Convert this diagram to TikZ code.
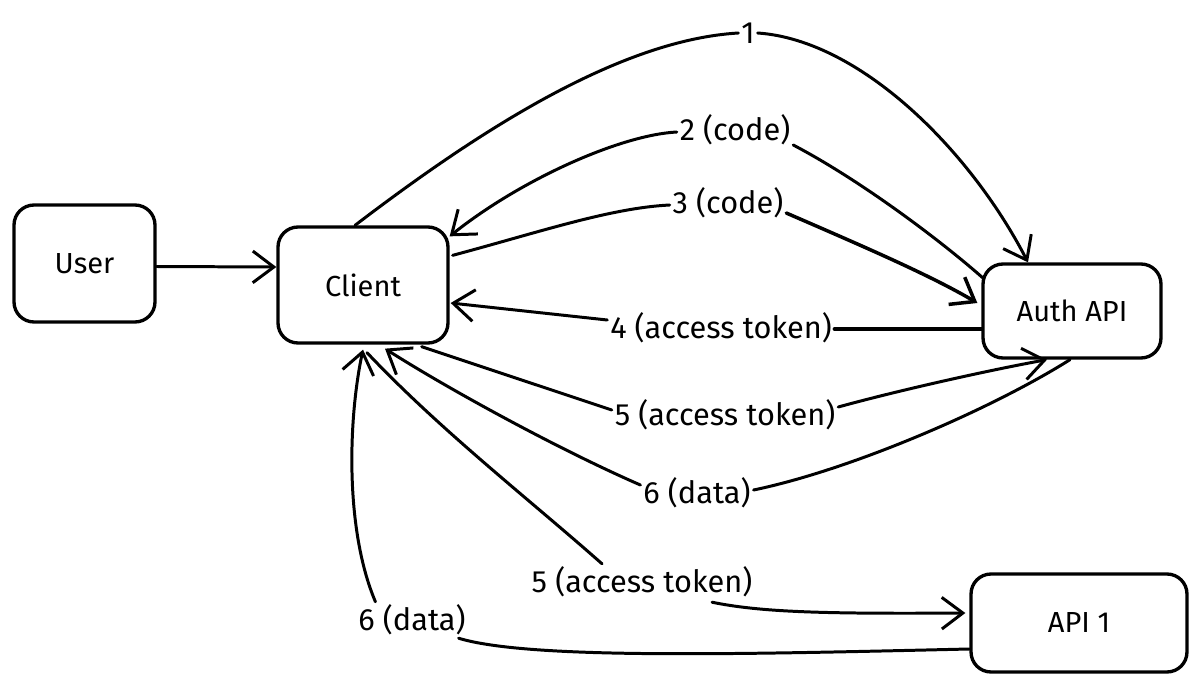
\documentclass[tikz,border=0pt]{standalone}
\usepackage{fontspec}
\setmainfont{Fira Sans}
\usetikzlibrary{arrows.meta,calc}
\begin{document}
\begin{tikzpicture}[x=0.02cm,y=-0.02cm,
  box/.style={draw, line width=1.9pt, rounded corners=0.4cm, font=\fontsize{16.5}{19}\selectfont, inner sep=0pt},
  lbl/.style={font=\fontsize{17.5}{20}\selectfont, inner sep=1.5pt},
  conn/.style={line width=1.7pt, line cap=round},
  thick conn/.style={conn, line width=2.4pt},
  arr/.style={conn, -{Straight Barb[length=12pt,width=18pt]}},
]
\useasboundingbox (0,0) rectangle (1200,686);

% boxes
\node[box, minimum width=2.82cm, minimum height=2.34cm] (user) at (84.5,263.5) {User};
\node[box, minimum width=3.40cm, minimum height=2.32cm] (client) at (363,285) {Client};
\node[box, minimum width=3.56cm, minimum height=1.88cm] (auth) at (1072,311) {Auth API};
\node[box, minimum width=4.32cm, minimum height=1.96cm] (api) at (1079,623) {API 1};

% labels
\node[lbl] (l1) at (748,33) {1};
\node[lbl] (l2) at (735,130) {2 (code)};
\node[lbl] (l3) at (728,203) {3 (code)};
\node[lbl] (l4) at (721,328) {4 (access token)};
\node[lbl] (l5) at (725,415) {5 (access token)};
\node[lbl] (l6) at (697,493) {6 (data)};
\node[lbl] (l7) at (642,582) {5 (access token)};
\node[lbl] (l8) at (412,620) {6 (data)};

% user -> client
\draw[arr] ($(user.east)+(0,3)$) -- ($(client.west)+(0,-18)$);

% 1
\draw[conn] ($(client.north)+(-8,0)$) .. controls (480,130) and (620,40) .. (l1.west);
\draw[arr] (l1.east) .. controls (860,40) and (970,150) .. ($(auth.north)+(-44,0)$);

% 2
\draw[conn] ($(auth.north west)+(2,16)$) .. controls (940,240) and (860,180) .. ($(l2.east)+(0,15)$);
\draw[arr] ($(l2.west)+(0,2)$) .. controls (620,135) and (520,180) .. ($(client.north east)+(0,11)$);

% 3
\draw[conn] ($(client.north east)+(3,30)$) .. controls (540,232) and (610,208) .. ($(l3.west)+(0,2)$);
\draw[arr, line width=2pt] ($(l3.east)+(0,10)$) .. controls (860,245) and (930,275) .. ($(auth.west)+(-4,-8)$);

% 4
\draw[thick conn] ($(auth.west)+(0,18)$) -- ($(l4.east)+(0,1)$);
\draw[arr] ($(l4.west)+(0,-8)$) -- ($(client.east)+(1,18)$);

% 5 (auth)
\draw[conn] ($(client.south east)+(-28,2)$) -- ($(l5.west)+(0,-5)$);
\draw[arr] ($(l5.east)+(0,-8)$) .. controls (900,390) and (990,370) .. ($(auth.south)+(-25,0)$);

% 6 (auth)
\draw[conn] ($(auth.south)+(-2,0)$) .. controls (990,410) and (850,470) .. ($(l6.east)+(0,-3)$);
\draw[arr] ($(l6.west)+(0,-8)$) .. controls (560,450) and (450,390) .. ($(client.south)+(22,4)$);

% 5 (api)
\draw[conn] ($(client.south)+(4,8)$) .. controls (440,430) and (530,500) .. ($(l7.north)+(-40,0)$);
\draw[arr] ($(l7.south)+(70,2)$) .. controls (760,612) and (820,614) .. ($(api.west)+(-4,-10)$);

% 6 (api)
\draw[conn] ($(api.west)+(0,26)$) .. controls (750,654) and (530,660) .. ($(l8.south east)+(-10,0)$);
\draw[arr] ($(l8.north west)+(20,0)$) .. controls (345,530) and (348,420) .. ($(client.south)+(0,5)$);
\end{tikzpicture}
\end{document}
